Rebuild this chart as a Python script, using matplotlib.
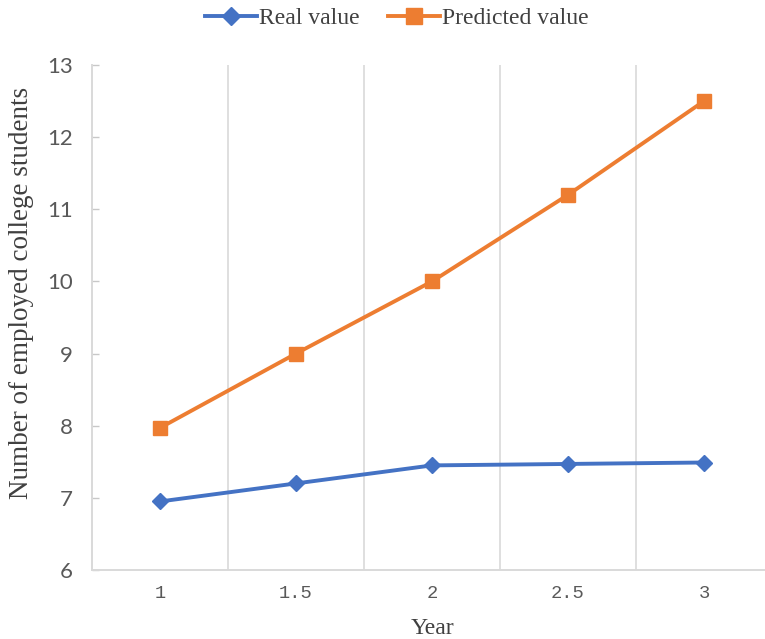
import numpy as np
import matplotlib
matplotlib.use("Agg")
import matplotlib.pyplot as plt
from matplotlib.ticker import FixedLocator

# Data
years = ["1", "1.5", "2", "2.5", "3"]
real_value = [6.95, 7.20, 7.45, 7.47, 7.49]
predicted_value = [7.97, 9.00, 10.00, 11.20, 12.50]

BLUE = "#4472C4"
ORANGE = "#ED7D31"
GRID = "#D9D9D9"
TICK_TEXT = "#595959"
SERIF = ["Liberation Serif", "DejaVu Serif"]

W, H = 765, 639
fig = plt.figure(figsize=(W / 100, H / 100), dpi=100)

# plot area in pixel terms: left 92, right 772, top 65, bottom 570
left, right, top, bottom = 92, 772, 65, 570
ax = fig.add_axes([left / W, (H - bottom) / H, (right - left) / W, (bottom - top) / H])

x = np.arange(len(years))
ax.plot(x, real_value, color=BLUE, lw=2.8, marker="D", ms=8,
        mfc=BLUE, mec=BLUE, label="Real value", zorder=3)
ax.plot(x, predicted_value, color=ORANGE, lw=2.8, marker="s", ms=9.5,
        mfc=ORANGE, mec=ORANGE, label="Predicted value", zorder=3)

ax.set_xlim(-0.5, len(years) - 0.5)
ax.set_ylim(6, 13)

# category axis with gridlines between categories
ax.set_xticks(x)
ax.set_xticklabels(years, fontsize=13.5, family=["Liberation Mono", "DejaVu Sans Mono"],
                   color=TICK_TEXT)
ax.xaxis.set_minor_locator(FixedLocator(np.arange(0.5, len(years) - 0.5, 1.0)))
ax.grid(which="minor", axis="x", color=GRID, lw=1.2)
ax.tick_params(axis="x", which="both", length=0, pad=11)

ax.set_yticks(np.arange(6, 14, 1))
ax.set_yticklabels([str(v) for v in range(6, 14)], fontsize=16,
                   family=["Lato", "DejaVu Sans"], color=TICK_TEXT)
ax.tick_params(axis="y", direction="in", length=5, width=1, color="#C8C8C8", pad=14)

for side in ["top", "right"]:
    ax.spines[side].set_visible(False)
for side in ["left", "bottom"]:
    ax.spines[side].set_color(GRID)
    ax.spines[side].set_linewidth(1.4)

ax.set_xlabel("Year", fontsize=17, family=SERIF, color="#404040", labelpad=11)
fig.text(22 / W, 1 - 293 / H, "Number of employed college students", rotation=90,
         ha="center", va="center", fontsize=19.5, family=SERIF, color="#404040")

fig.legend(loc="center", bbox_to_anchor=(397 / W, 1 - 18 / H), ncol=2,
           frameon=False, prop={"family": SERIF, "size": 17},
           handlelength=2.2, handletextpad=0.1, columnspacing=1.2,
           labelcolor="#404040", markerscale=1.15)

fig.savefig("out.png", dpi=100)
